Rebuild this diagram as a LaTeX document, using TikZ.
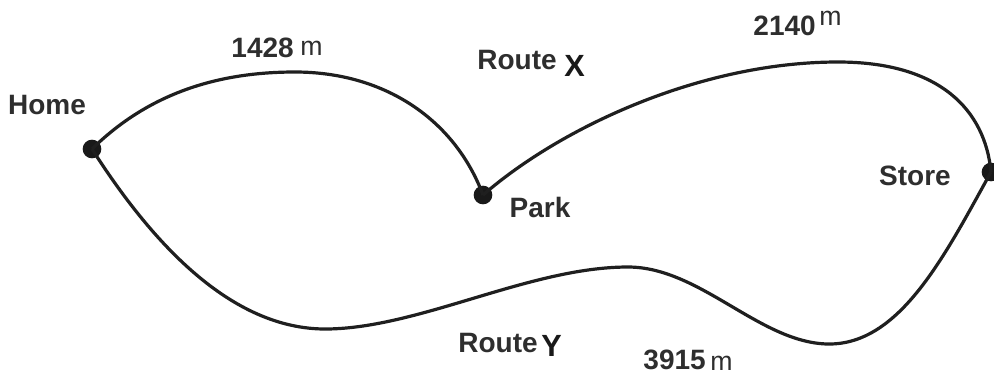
\documentclass[tikz,border=0pt]{standalone}
\usepackage{fontspec}
\setmainfont{Liberation Sans}
\begin{document}
\begin{tikzpicture}[x=0.75pt,y=-0.75pt,
  route/.style={line width=2.4pt,draw=black!88},
  dot/.style={circle,fill=black!90,inner sep=0pt,minimum size=14pt},
  lbl/.style={font=\bfseries\fontsize{21}{24}\selectfont,text=black!82,inner sep=0pt},
  big/.style={font=\bfseries\fontsize{23}{26}\selectfont,text=black!90,inner sep=0pt},
  unit/.style={font=\fontsize{20}{24}\selectfont,text=black!82,inner sep=0pt}]
\useasboundingbox (0,0) rectangle (994,383);
\node[dot] (home) at (92,149) {};
\node[dot] (park) at (483,195) {};
\node[dot] (store) at (991,172) {};
\draw[route] (home.center) .. controls (150,92) and (220,72) .. (295,72)
  .. controls (385,72) and (455,120) .. (park.center);
\draw[route] (park.center) .. controls (560,128) and (700,62) .. (838,62)
  .. controls (940,62) and (985,110) .. (store.center);
\draw[route] (store.center) .. controls (945,255) and (900,345) .. (828,344)
  .. controls (760,343) and (700,267) .. (628,267)
  .. controls (530,267) and (420,328) .. (327,329)
  .. controls (230,330) and (150,240) .. (home.center);
\node[lbl] (thome) at (47,105) {Home};
\node[lbl,anchor=east] (t1428) at (294,48) {1428};
\node[unit,anchor=west] (m1) at (300,48) {m};
\node[lbl,anchor=east] (trx) at (557,60) {Route};
\node[big,anchor=west] (tx) at (564,66) {X};
\node[lbl,anchor=east] (t2140) at (816,26) {2140};
\node[unit,anchor=west] (m2) at (819,18) {m};
\node[lbl] (tpark) at (540,207) {Park};
\node[lbl] (tstore) at (915,176) {Store};
\node[lbl,anchor=east] (try) at (538,343) {Route};
\node[big,anchor=west] (ty) at (541,346) {Y};
\node[lbl,anchor=east] (t3915) at (706,360) {3915};
\node[unit,anchor=west] (m3) at (710,363) {m};
\end{tikzpicture}
\end{document}
